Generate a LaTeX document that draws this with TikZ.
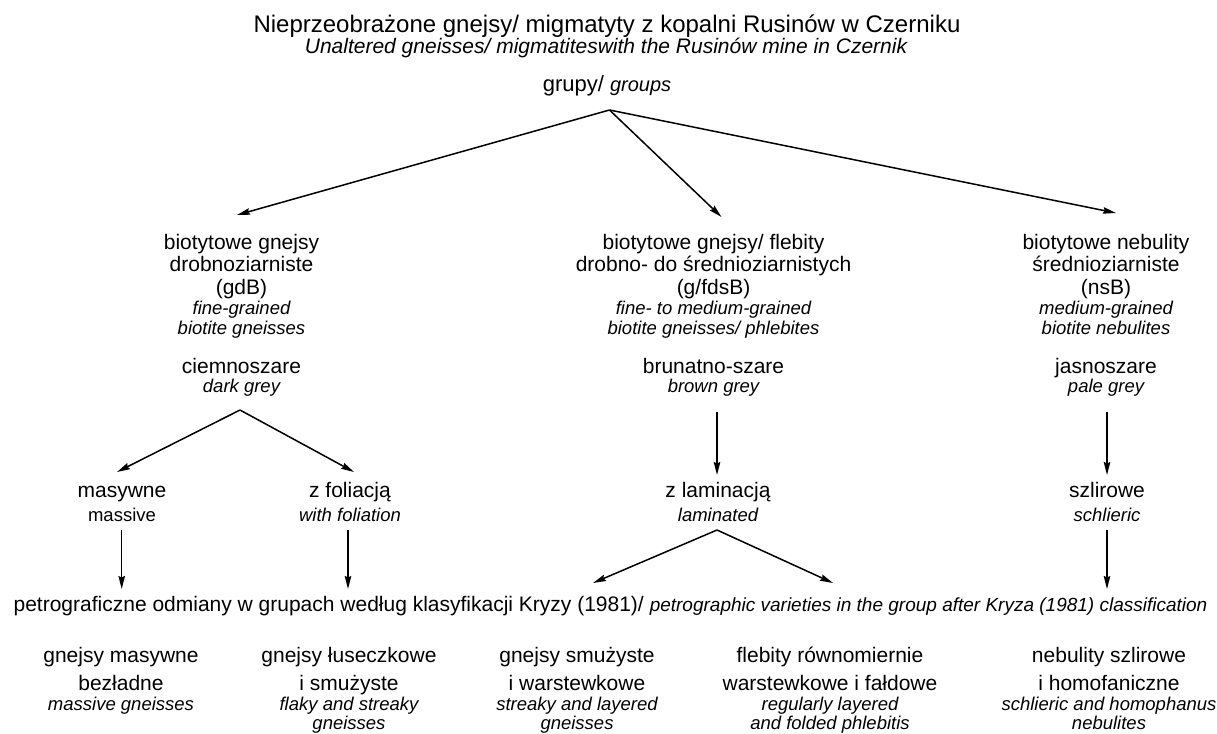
\documentclass[tikz,border=0pt]{standalone}
\usepackage{fontspec}
\setmainfont{Liberation Sans}
\usetikzlibrary{arrows.meta}
\tikzset{
  tx/.style={anchor=base, inner sep=0pt, outer sep=0pt},
  tit/.style={tx, font=\fontsize{24}{28}\selectfont},
  sub/.style={tx, font=\fontsize{21}{24}\selectfont\itshape},
  rg/.style={tx, font=\fontsize{21}{24}\selectfont},
  it/.style={tx, font=\fontsize{18.5}{21}\selectfont\itshape},
  sm/.style={tx, font=\fontsize{18.5}{21}\selectfont},
  arr/.style={draw=black, line width=1.5pt, -{Stealth[length=13pt,width=6.5pt,inset=1.5pt]}}
}
\begin{document}
\begin{tikzpicture}[x=1pt,y=-1pt]
\useasboundingbox[fill=white] (0,0) rectangle (1217,733);
% title
\node[tit] (t1) at (607,33) {Nieprzeobrażone gnejsy/ migmatyty z kopalni Rusinów w Czerniku};
\node[sub] (t2) at (606,54) {Unaltered gneisses/ migmatiteswith the Rusinów mine in Czernik};
\node[tx, font=\fontsize{22}{25}\selectfont] (grp) at (607,92) {grupy/ {\itshape\fontsize{20}{24}\selectfont groups}};
% block A
\node[rg] (a1) at (241.5,249) {biotytowe gnejsy};
\node[rg] (a2) at (241.5,271.5) {drobnoziarniste};
\node[rg] (a3) at (241.5,294) {(gdB)};
\node[it] (a4) at (241.5,314.5) {fine-grained};
\node[it] (a5) at (241.5,334.5) {biotite gneisses};
\node[rg] (a6) at (241.5,373) {ciemnoszare};
\node[it] (a7) at (241.5,392) {dark grey};
% block B
\node[rg] (b1) at (713.5,249) {biotytowe gnejsy/ flebity};
\node[rg] (b2) at (713.5,271.5) {drobno- do średnioziarnistych};
\node[rg] (b3) at (713.5,294) {(g/fdsB)};
\node[it] (b4) at (713.5,314.5) {fine- to medium-grained};
\node[it] (b5) at (713.5,334.5) {biotite gneisses/ phlebites};
\node[rg] (b6) at (713.5,373) {brunatno-szare};
\node[it] (b7) at (713.5,392) {brown grey};
% block C
\node[rg] (c1) at (1106,249) {biotytowe nebulity};
\node[rg] (c2) at (1106,271.5) {średnioziarniste};
\node[rg] (c3) at (1106,294) {(nsB)};
\node[it] (c4) at (1106,314.5) {medium-grained};
\node[it] (c5) at (1106,334.5) {biotite nebulites};
\node[rg] (c6) at (1106,373) {jasnoszare};
\node[it] (c7) at (1106,392) {pale grey};
% level 3
\node[rg] (m1) at (122,497.5) {masywne};
\node[sm] (m2) at (122,521.5) {massive};
\node[rg] (f1) at (350,497.5) {z foliacją};
\node[it] (f2) at (350,521.5) {with foliation};
\node[rg] (l1) at (718,497.5) {z laminacją};
\node[it] (l2) at (718,521.5) {laminated};
\node[rg] (s1) at (1107,497.5) {szlirowe};
\node[it] (s2) at (1107,521.5) {schlieric};
% petrographic line
\node[rg] (pet) at (610.5,611) {petrograficzne odmiany w grupach według klasyfikacji Kryzy (1981)/ {\itshape\fontsize{19}{22}\selectfont petrographic varieties in the group after Kryza (1981) classification}};
% bottom columns
\node[rg] (d1a) at (121,662) {gnejsy masywne};
\node[rg] (d1b) at (121,690) {bezładne};
\node[it] (d1c) at (121,710) {massive gneisses};
\node[rg] (d2a) at (349,662) {gnejsy łuseczkowe};
\node[rg] (d2b) at (349,690) {i smużyste};
\node[it] (d2c) at (349,710) {flaky and streaky};
\node[it] (d2d) at (349,729.5) {gneisses};
\node[rg] (d3a) at (577,662) {gnejsy smużyste};
\node[rg] (d3b) at (577,690) {i warstewkowe};
\node[it] (d3c) at (577,710) {streaky and layered};
\node[it] (d3d) at (577,729.5) {gneisses};
\node[rg] (d4a) at (830,662) {flebity równomiernie};
\node[rg] (d4b) at (830,690) {warstewkowe i fałdowe};
\node[it] (d4c) at (830,710) {regularly layered};
\node[it] (d4d) at (830,729.5) {and folded phlebitis};
\node[rg] (d5a) at (1109,662) {nebulity szlirowe};
\node[rg] (d5b) at (1109,690) {i homofaniczne};
\node[it] (d5c) at (1109,710) {schlieric and homophanus};
\node[it] (d5d) at (1109,729.5) {nebulites};
% connector end points
\coordinate (ap0) at (609.5,110);
\coordinate (tA) at (237,215);
\coordinate (tB) at (721.5,217);
\coordinate (tC) at (1116,213);
\coordinate (apA) at (240,410);
\coordinate (tM) at (117,472);
\coordinate (tF) at (354,472);
\coordinate (sB) at (717,412);
\coordinate (eB) at (717,475);
\coordinate (sC) at (1107,412);
\coordinate (eC) at (1107,475);
\coordinate (sM) at (121.7,530);
\coordinate (eM) at (121.7,589);
\coordinate (sF) at (348,530);
\coordinate (eF) at (348,589);
\coordinate (apL) at (717,530);
\coordinate (tL1) at (593,583);
\coordinate (tL2) at (833,583);
\coordinate (sS) at (1107,530);
\coordinate (eS) at (1107,589);
% connectors
\draw[arr] (ap0) -- (tA);
\draw[arr] (ap0) -- (tB);
\draw[arr] (ap0) -- (tC);
\draw[arr] (apA) -- (tM);
\draw[arr] (apA) -- (tF);
\draw[arr] (sB) -- (eB);
\draw[arr] (sC) -- (eC);
\draw[arr] (sM) -- (eM);
\draw[arr] (sF) -- (eF);
\draw[arr] (apL) -- (tL1);
\draw[arr] (apL) -- (tL2);
\draw[arr] (sS) -- (eS);
\end{tikzpicture}
\end{document}
